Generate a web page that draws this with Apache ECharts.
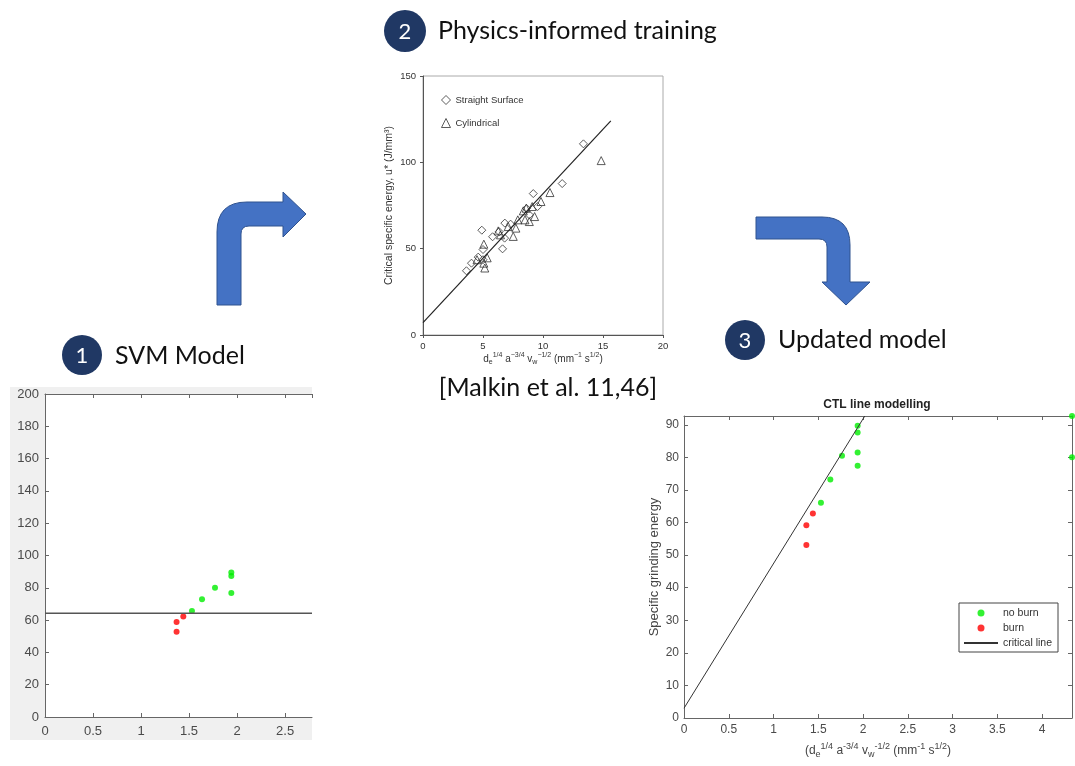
<!DOCTYPE html>
<html>
<head>
<meta charset="utf-8">
<script src="https://cdn.jsdelivr.net/npm/echarts@6/dist/echarts.min.js"></script>
<style>
  html, body { margin: 0; padding: 0; background: #fff; }
  #chart { width: 1075px; height: 766px; }
</style>
</head>
<body>
<div id="chart"></div>
<script>
// ---- Panel 1: SVM model (x, specific energy) ----
const svmBurn = [[1.37, 52.8], [1.37, 58.8], [1.44, 62.3]];
const svmNoBurn = [[1.53, 65.6], [1.635, 72.9], [1.77, 80.0], [1.94, 76.8], [1.94, 87.3], [1.94, 89.5]];
const svmBoundaryLevel = 64.2;
const svmXRange = [0, 2.78];
const svmYRange = [0, 200];

// ---- Panel 2: critical specific energy vs. equivalent parameter ----
const straightSurface = [
  [3.62, 37.2], [4.04, 41.6], [4.6, 45.1], [4.9, 60.7], [5.0, 49.5], [5.0, 43.6],
  [5.8, 56.9], [6.35, 59.8], [6.63, 49.9], [6.8, 56.1], [6.82, 64.8], [7.3, 64.2],
  [8.63, 73.3], [8.86, 69.6], [9.19, 81.9], [9.55, 74.4], [11.6, 87.7], [13.37, 110.7]
];
const cylindrical = [
  [4.5, 43.6], [5.07, 52.6], [5.35, 44.7], [5.07, 41.6], [5.15, 38.8], [6.27, 60.3],
  [6.46, 58.0], [7.1, 62.8], [7.52, 57.1], [7.74, 61.9], [7.9, 66.7], [8.36, 71.9],
  [8.5, 66.7], [8.6, 73.4], [8.86, 65.7], [9.1, 74.4], [9.3, 68.6], [9.83, 77.3],
  [10.58, 82.5], [14.85, 101.0]
];
const malkinFit = [[0, 7.2], [15.65, 124.0]];

// ---- Panel 3: CTL line modelling ----
const ctlNoBurn = [
  [1.94, 89.7], [1.94, 87.6], [1.94, 81.5], [1.94, 77.4], [1.765, 80.5],
  [1.635, 73.2], [1.53, 66.1], [4.335, 92.7], [4.335, 80.0]
];
const ctlBurn = [[1.44, 62.8], [1.367, 59.2], [1.367, 53.1]];
const ctlCriticalLine = [[0, 3.0], [2.02, 92.7]];
const ctlXRange = [0, 4.335];
const ctlYRange = [0, 92.7];

const AX = '#666';
const LBL = '#4a4a4a';
const SANS = '"Liberation Sans", Arial, sans-serif';
const SLIDE = 'Lato, "Open Sans", sans-serif';

// bent block arrows linking the three steps
const arrowPaths = [
  'M217,305 L217,232 Q217,202 247,202 L283,202 L283,192 L306,214 L283,237 L283,226 L249,226 Q241,226 241,234 L241,305 Z',
  'M756,217 L822,217 Q850,217 850,245 L850,282 L870,282 L846,305 L822,282 L827,282 L827,247 Q827,239 819,239 L756,239 Z'
];

function matAxis(extra) {
  return Object.assign({
    type: 'value',
    splitLine: { show: false },
    axisLine: { show: true, onZero: false, lineStyle: { color: AX, width: 1 } },
    axisTick: { show: true, inside: true, length: 4, lineStyle: { color: AX } },
    axisLabel: { color: LBL, fontFamily: SANS, fontSize: 13, showMaxLabel: false }
  }, extra);
}

const supStyles = {
  b: { fontSize: 12, fontFamily: SANS, color: '#444' },
  sup: { fontSize: 9, fontFamily: SANS, color: '#444', padding: [0, 0, 9, 0] },
  sub: { fontSize: 9, fontFamily: SANS, color: '#444', padding: [7, 0, 0, 0] }
};
const supStylesSmall = {
  b: { fontSize: 10, fontFamily: SANS, color: '#333' },
  sup: { fontSize: 7, fontFamily: SANS, color: '#333', padding: [0, 0, 7, 0] },
  sub: { fontSize: 7, fontFamily: SANS, color: '#333', padding: [6, 0, 0, 0] }
};

const chart = echarts.init(document.getElementById('chart'), null, { renderer: 'canvas' });

const option = {
  backgroundColor: '#fff',
  animation: false,
  grid: [
    { left: 45, top: 394, width: 267, height: 323, show: true, backgroundColor: '#fff', borderWidth: 0 },
    { left: 423, top: 76, width: 240, height: 259, show: true, backgroundColor: 'transparent', borderColor: '#aaa', borderWidth: 1 },
    { left: 684, top: 416, width: 388, height: 302, show: true, backgroundColor: '#fff', borderWidth: 0 }
  ],
  xAxis: [
    matAxis({ gridIndex: 0, min: svmXRange[0], max: svmXRange[1], interval: 0.5, axisLabel: { color: LBL, fontFamily: SANS, fontSize: 13, margin: 8, showMaxLabel: false } }),
    matAxis({ gridIndex: 0, position: 'top', min: svmXRange[0], max: svmXRange[1], interval: 0.5, axisLabel: { show: false } }),
    {
      type: 'value', gridIndex: 1, min: 0, max: 20, interval: 5,
      splitLine: { show: false },
      axisLine: { onZero: false, lineStyle: { color: '#555' } },
      axisTick: { inside: false, length: 3, lineStyle: { color: '#555' } },
      axisLabel: { color: '#333', fontFamily: SANS, fontSize: 9.5, margin: 6 },
      name: '{b|d}{sub|e}{sup|1/4}{b| a}{sup|−3/4}{b| v}{sub|w}{sup|−1/2}{b| (mm}{sup|−1}{b| s}{sup|1/2}{b|)}',
      nameLocation: 'middle', nameGap: 11,
      nameTextStyle: { rich: supStylesSmall }
    },
    matAxis({
      gridIndex: 2, min: ctlXRange[0], max: ctlXRange[1], interval: 0.5,
      axisLabel: { color: LBL, fontFamily: SANS, fontSize: 12, margin: 6, showMaxLabel: false },
      name: '{b|(d}{sub|e}{sup|1/4}{b| a}{sup|-3/4}{b| v}{sub|w}{sup|-1/2}{b| (mm}{sup|-1}{b| s}{sup|1/2}{b|)}',
      nameLocation: 'middle', nameGap: 24,
      nameTextStyle: { rich: supStyles }
    }),
    matAxis({ gridIndex: 2, position: 'top', min: ctlXRange[0], max: ctlXRange[1], interval: 0.5, axisLabel: { show: false } })
  ],
  yAxis: [
    matAxis({ gridIndex: 0, min: svmYRange[0], max: svmYRange[1], interval: 20, axisLabel: { color: LBL, fontFamily: SANS, fontSize: 13, margin: 6 } }),
    {
      type: 'value', gridIndex: 1, min: 0, max: 150, interval: 50,
      splitLine: { show: false },
      axisLine: { onZero: false, lineStyle: { color: '#555' } },
      axisTick: { inside: false, length: 3, lineStyle: { color: '#555' } },
      axisLabel: { color: '#333', fontFamily: SANS, fontSize: 9.5, margin: 7 },
      name: 'Critical specific energy, u* (J/mm³)',
      nameLocation: 'middle', nameGap: 28,
      nameTextStyle: { color: '#333', fontFamily: SANS, fontSize: 10.5 }
    },
    matAxis({
      gridIndex: 2, min: ctlYRange[0], max: ctlYRange[1], interval: 10,
      axisLabel: { color: LBL, fontFamily: SANS, fontSize: 12, margin: 5, showMaxLabel: false },
      name: 'Specific grinding energy',
      nameLocation: 'middle', nameGap: 23,
      nameTextStyle: { color: '#444', fontFamily: SANS, fontSize: 13 }
    }),
    matAxis({ gridIndex: 2, position: 'right', min: ctlYRange[0], max: ctlYRange[1], interval: 10, axisLabel: { show: false } })
  ],
  legend: [
    {
      orient: 'vertical', left: 441, top: 95, itemGap: 13, itemWidth: 9, itemHeight: 9,
      padding: 0,
      itemStyle: { borderWidth: 1 },
      textStyle: { color: '#333', fontFamily: SANS, fontSize: 9.5 },
      data: ['Straight Surface', 'Cylindrical'],
      selectedMode: false
    },
    {
      orient: 'vertical', left: 959, top: 603, itemGap: 3, itemWidth: 34, itemHeight: 7,
      padding: [4, 6, 3, 4],
      borderColor: '#444', borderWidth: 1, backgroundColor: '#fff',
      textStyle: { color: '#333', fontFamily: SANS, fontSize: 10.5, lineHeight: 12 },
      data: ['no burn', 'burn', { name: 'critical line', itemStyle: { opacity: 0 } }],
      selectedMode: false
    }
  ],
  series: [
    // Panel 1
    { type: 'line', name: 'svm boundary', xAxisIndex: 0, yAxisIndex: 0, symbol: 'none',
      lineStyle: { color: '#555', width: 1.5 },
      data: [[svmXRange[0], svmBoundaryLevel], [svmXRange[1], svmBoundaryLevel]] },
    { type: 'scatter', name: 'svm burn', xAxisIndex: 0, yAxisIndex: 0, symbolSize: 6,
      itemStyle: { color: '#ff0000' }, data: svmBurn },
    { type: 'scatter', name: 'svm no burn', xAxisIndex: 0, yAxisIndex: 0, symbolSize: 6,
      itemStyle: { color: '#00ee00' }, data: svmNoBurn },
    // Panel 2
    { type: 'line', name: 'fit', xAxisIndex: 2, yAxisIndex: 1, symbol: 'none',
      lineStyle: { color: '#222', width: 1.2 }, data: malkinFit },
    { type: 'scatter', name: 'Straight Surface', xAxisIndex: 2, yAxisIndex: 1, symbol: 'diamond', symbolSize: 8,
      itemStyle: { color: '#fff', borderColor: '#333', borderWidth: 1 }, data: straightSurface },
    { type: 'scatter', name: 'Cylindrical', xAxisIndex: 2, yAxisIndex: 1, symbol: 'triangle', symbolSize: 8,
      itemStyle: { color: 'rgba(255,255,255,0)', borderColor: '#333', borderWidth: 1 }, data: cylindrical },
    // Panel 3
    { type: 'scatter', name: 'no burn', xAxisIndex: 3, yAxisIndex: 2, symbolSize: 6, clip: false,
      itemStyle: { color: '#00ee00' }, data: ctlNoBurn },
    { type: 'scatter', name: 'burn', xAxisIndex: 3, yAxisIndex: 2, symbolSize: 6,
      itemStyle: { color: '#ff0000' }, data: ctlBurn },
    { type: 'line', name: 'critical line', xAxisIndex: 3, yAxisIndex: 2, symbol: 'none',
      lineStyle: { color: '#333', width: 1 }, itemStyle: { color: '#333' }, data: ctlCriticalLine },
    // flow arrows
    {
      type: 'custom', name: 'arrows', coordinateSystem: 'none', silent: true,
      data: [0],
      renderItem: function () {
        return {
          type: 'group',
          children: arrowPaths.map(function (d) {
            return { type: 'path', shape: { pathData: d }, style: { fill: '#4472c4', stroke: '#2f528f', lineWidth: 1 } };
          })
        };
      }
    }
  ],
  graphic: [
    // grey figure backdrop behind panel 1
    { type: 'rect', z: -10, shape: { x: 10, y: 387, width: 302, height: 353 }, style: { fill: '#f0f0f0' } },
    // step badges
    { type: 'circle', shape: { cx: 82, cy: 355, r: 20 }, style: { fill: '#203864' } },
    { type: 'text', x: 82, y: 356, style: { text: '1', fill: '#fff', font: '22px ' + SLIDE, align: 'center', verticalAlign: 'middle', textAlign: 'center', textVerticalAlign: 'middle' } },
    { type: 'text', x: 115, y: 356, style: { text: 'SVM Model', fill: '#111', font: '25px ' + SLIDE, verticalAlign: 'middle', textVerticalAlign: 'middle' } },

    { type: 'circle', shape: { cx: 405, cy: 31, r: 21 }, style: { fill: '#203864' } },
    { type: 'text', x: 405, y: 32, style: { text: '2', fill: '#fff', font: '22px ' + SLIDE, align: 'center', verticalAlign: 'middle', textAlign: 'center', textVerticalAlign: 'middle' } },
    { type: 'text', x: 438, y: 31, style: { text: 'Physics-informed training', fill: '#111', font: '25px ' + SLIDE, verticalAlign: 'middle', textVerticalAlign: 'middle' } },

    { type: 'circle', shape: { cx: 745, cy: 340, r: 20 }, style: { fill: '#203864' } },
    { type: 'text', x: 745, y: 341, style: { text: '3', fill: '#fff', font: '22px ' + SLIDE, align: 'center', verticalAlign: 'middle', textAlign: 'center', textVerticalAlign: 'middle' } },
    { type: 'text', x: 778, y: 340, style: { text: 'Updated model', fill: '#111', font: '25px ' + SLIDE, verticalAlign: 'middle', textVerticalAlign: 'middle' } },

    { type: 'text', x: 548, y: 388, style: { text: '[Malkin et al. 11,46]', fill: '#111', font: '25px ' + SLIDE, align: 'center', verticalAlign: 'middle', textAlign: 'center', textVerticalAlign: 'middle' } },

    { type: 'text', x: 877, y: 405, style: { text: 'CTL line modelling', fill: '#222', font: 'bold 12px ' + SANS, align: 'center', verticalAlign: 'middle', textAlign: 'center', textVerticalAlign: 'middle' } }
  ]
};

chart.setOption(option);
</script>
</body>
</html>
